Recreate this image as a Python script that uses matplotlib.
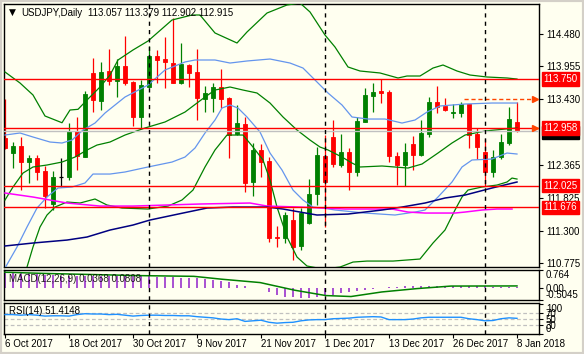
import matplotlib
matplotlib.use("Agg")
import matplotlib.pyplot as plt
import numpy as np
from matplotlib.patches import Rectangle

plt.rcParams['font.family'] = ['Liberation Sans', 'DejaVu Sans']

# daily candles, 6 Oct 2017 .. 8 Jan 2018
opens = [112.800, 112.559, 112.668, 112.414, 112.480, 112.268, 111.724, 112.171, 112.171, 112.910,
         112.495, 113.854, 113.401, 113.886, 113.724, 113.962, 113.708, 113.142, 113.627, 114.124,
         114.075, 114.016, 113.692, 113.978, 113.870, 113.433, 113.440, 113.628, 113.449, 112.857,
         113.024, 112.090, 112.603, 112.425, 111.200, 111.180, 111.470, 111.050, 111.427, 111.891,
         112.506, 112.808, 112.360, 112.571, 112.252, 113.061, 113.477, 113.563, 113.546, 112.506,
         112.360, 112.700, 112.522, 112.862, 113.385, 113.315, 113.197, 113.207, 113.347, 112.862,
         112.571, 112.252, 112.485, 112.721, 113.057]
highs = [113.430, 112.737, 112.818, 112.522, 112.522, 112.349, 112.268, 112.480, 113.035, 113.142,
         113.563, 114.087, 114.032, 114.229, 114.070, 114.448, 113.720, 113.736, 114.286, 114.221,
         114.427, 114.734, 114.330, 113.990, 114.232, 113.639, 113.682, 113.909, 113.455, 113.331,
         113.132, 112.711, 112.700, 112.495, 111.373, 111.605, 111.660, 111.660, 112.129, 112.656,
         112.846, 113.088, 112.862, 112.630, 113.142, 113.601, 113.692, 113.747, 113.574, 112.575,
         112.721, 112.830, 113.088, 113.456, 113.639, 113.440, 113.347, 113.385, 113.350, 112.954,
         112.776, 112.603, 112.862, 113.294, 113.379]
lows = [112.620, 112.307, 111.956, 112.064, 112.118, 111.660, 111.632, 112.009, 112.118, 112.279,
        112.490, 113.223, 113.250, 113.655, 113.465, 113.655, 112.991, 112.954, 113.600, 113.682,
        113.601, 113.690, 113.670, 113.627, 113.088, 113.223, 113.223, 113.278, 112.469, 112.840,
        111.928, 111.863, 112.161, 111.119, 111.038, 111.093, 110.823, 110.985, 111.400, 111.713,
        111.362, 112.333, 112.333, 111.956, 112.182, 113.050, 113.223, 113.359, 112.414, 112.037,
        112.020, 112.279, 112.500, 112.818, 113.197, 113.240, 113.116, 113.142, 112.640, 112.453,
        112.020, 112.161, 112.453, 112.684, 112.902]
closes = [112.630, 112.668, 112.414, 112.480, 112.252, 111.863, 112.171, 112.171, 112.910, 112.511,
          113.509, 113.412, 113.870, 113.719, 113.962, 113.682, 113.142, 113.655, 114.124, 114.059,
          114.027, 113.692, 113.995, 113.854, 113.449, 113.520, 113.618, 113.430, 112.846, 113.035,
          112.064, 112.603, 112.414, 111.184, 111.175, 111.551, 111.038, 111.588, 111.891, 112.522,
          112.090, 112.376, 112.575, 112.252, 113.077, 113.493, 113.546, 113.530, 112.506, 112.360,
          112.571, 112.522, 112.873, 113.385, 113.304, 113.250, 113.218, 113.347, 112.846, 112.656,
          112.252, 112.495, 112.732, 113.100, 112.915]

date_ticks = [0, 8, 16, 24, 32, 40, 48, 56, 64]
date_labels = ['6 Oct 2017', '18 Oct 2017', '30 Oct 2017', '9 Nov 2017', '21 Nov 2017',
               '1 Dec 2017', '13 Dec 2017', '26 Dec 2017', '8 Jan 2018']
month_starts = [18, 40, 60]

# Bollinger bands (20, 2) - green
bb2_up_x = [0, 1.875, 3.5, 5, 7.125, 8.125, 9.125, 10.25, 11.875, 13.125, 14.125, 16, 17.875, 20.875,
            23.375, 24.375, 26.25, 29, 30.25, 32.75, 35.25, 36.875, 38.125, 40, 41.25, 42.875, 44.375,
            46.875, 49.125, 50.25, 51.875, 53.5, 54.75, 56.5, 58.125, 60.25, 62.75, 64]
bb2_up = [113.865, 113.687, 113.493, 113.153, 113.044, 113.250, 113.261, 113.412, 113.622, 113.816,
          114.059, 114.221, 114.366, 114.706, 114.787, 114.787, 114.496, 114.334, 114.512, 114.819,
          114.949, 114.981, 114.836, 114.463, 114.269, 113.946, 113.881, 113.849, 113.768, 113.800,
          113.800, 113.929, 113.978, 113.881, 113.816, 113.784, 113.768, 113.751]
bb_mid_x = [0, 1, 2.25, 3.5, 5.25, 7.125, 8.75, 10.25, 11.5, 13.125, 15, 17.5, 20, 22.5, 25, 26.25,
            28.125, 29.75, 31.5, 33.125, 34.75, 36.5, 38.125, 39.375, 40.375, 42.125, 43.375, 44.375,
            47.125, 50.375, 52.125, 54.125, 55.875, 57.5, 60, 62.5, 64]
bb_mid = [111.794, 112.004, 112.230, 112.328, 112.360, 112.408, 112.489, 112.603, 112.683, 112.732,
          112.845, 112.959, 113.056, 113.217, 113.460, 113.573, 113.622, 113.573, 113.525, 113.363,
          113.137, 112.926, 112.764, 112.651, 112.603, 112.489, 112.392, 112.328, 112.344, 112.311,
          112.376, 112.554, 112.716, 112.845, 112.910, 112.942, 112.959]
bb2_lo_x = [1.875, 2.75, 3.5, 4.375, 5.25, 6.25, 7.75, 9.375, 11.25, 12.75, 14.625, 17.875, 20.375,
            22.125, 23.5, 25, 26.25, 27.75, 29.75, 31, 32.25, 33.125, 34, 35.25, 36.5, 37.75, 39.75,
            41.875, 43.5, 45.25, 48.5, 51.875, 53.5, 55, 56.25, 57.125, 57.875, 59.625, 61.5, 62.75,
            63.375, 64]
bb2_lo = [110.337, 110.709, 111.033, 111.357, 111.551, 111.680, 111.761, 111.745, 111.810, 111.713,
          111.664, 111.648, 111.696, 111.794, 111.955, 112.328, 112.603, 112.845, 112.845, 112.651,
          112.441, 112.117, 111.680, 111.195, 110.871, 110.726, 110.677, 110.709, 110.790, 110.806,
          110.806, 110.839, 111.098, 111.308, 111.632, 111.842, 111.955, 112.004, 112.036, 112.085,
          112.149, 112.133]

# Bollinger bands (20, 1) - blue
bb1_up_x = [0, 1.875, 3.5, 5.625, 7.125, 8.375, 9.75, 11.25, 12.5, 15, 17.875, 20, 22.5, 23.75, 26.25,
            28.125, 30.25, 33.125, 35.625, 37.25, 39, 40.375, 42.125, 43.375, 45.375, 47.5, 49.625,
            51.25, 52.75, 54.375, 57.5, 60.875, 64]
bb1_up = [112.845, 112.878, 112.813, 112.732, 112.716, 112.764, 112.926, 113.039, 113.201, 113.460,
          113.654, 113.897, 114.027, 114.059, 114.059, 114.010, 114.043, 114.075, 114.010, 113.929,
          113.703, 113.525, 113.331, 113.137, 113.104, 113.104, 113.039, 113.088, 113.217, 113.315,
          113.347, 113.363, 113.363]
bb1_lo_x = [0, 1.5, 2.75, 4, 5.25, 6.625, 8.375, 10, 11, 13.125, 15, 17.875, 20.875, 22.5, 23.75, 25,
            26.25, 27.125, 28.125, 29.125, 30.25, 31.875, 33.125, 34.625, 36, 37.25, 38.5, 39.75,
            41.25, 45, 48.75, 51.25, 52.5, 54.125, 55.875, 57.125, 58.375, 60.875, 62.75, 64]
bb1_lo = [110.693, 111.033, 111.357, 111.664, 111.842, 111.988, 112.004, 112.069, 112.214, 112.214,
          112.247, 112.328, 112.408, 112.489, 112.635, 112.878, 113.088, 113.282, 113.331, 113.282,
          113.137, 112.894, 112.554, 112.279, 111.955, 111.794, 111.680, 111.664, 111.632, 111.583,
          111.551, 111.599, 111.632, 111.842, 112.085, 112.328, 112.441, 112.457, 112.554, 112.538]

# slow moving averages
ma_navy_x = [0, 3.5, 7.75, 10.25, 13.125, 16, 18.125, 22.25, 25.25, 28.5, 32.75, 34.75, 36.875, 39,
             42.875, 47.125, 49.625, 52.5, 55, 57.5, 60.875, 64]
ma_navy = [111.050, 111.098, 111.146, 111.195, 111.308, 111.389, 111.470, 111.583, 111.664, 111.680,
           111.680, 111.648, 111.599, 111.551, 111.567, 111.632, 111.680, 111.745, 111.826, 111.874,
           111.988, 112.085]
ma_magenta_x = [0, 3.5, 7.75, 11.875, 16, 20.25, 24.375, 30.625, 32.75, 36.875, 42.5, 48.375, 50.375,
                52.5, 56.25, 57.5, 59.625, 61.5, 63.375]
ma_magenta = [111.907, 111.842, 111.745, 111.696, 111.696, 111.713, 111.729, 111.745, 111.696, 111.680,
              111.648, 111.648, 111.599, 111.583, 111.583, 111.599, 111.632, 111.648, 111.648]

# horizontal levels
red_levels = [113.750, 112.958, 112.025, 111.676]
bid_price = 112.915
arrow_price = 113.430
arrow_from_bar = 57.4

price_ticks = [114.480, 113.955, 113.430, 112.365, 111.825, 111.300, 110.775]

# MACD(12,26,9)
macd_hist = [0.74, 0.68, 0.64, 0.60, 0.58, 0.55, 0.52, 0.51, 0.50, 0.50,
             0.50, 0.51, 0.51, 0.50, 0.50, 0.50, 0.50, 0.50, 0.50, 0.46,
             0.46, 0.46, 0.43, 0.43, 0.39, 0.35, 0.32, 0.29, 0.23, 0.14,
             0.06, 0.015, 0.0, -0.19, -0.29, -0.38, -0.40, -0.43, -0.43, -0.38,
             -0.33, -0.29, -0.23, -0.19, -0.14, -0.09, -0.04, -0.01, 0.02, 0.05,
             0.07, 0.07, 0.07, 0.07, 0.09, 0.09, 0.09, 0.09, 0.07, 0.07,
             0.06, 0.04, 0.04, 0.04, 0.0368]
macd_sig_x = [0, 5, 16.75, 23.6, 27.1, 31.9, 36.25, 40.1, 43.25, 47.1, 51.5, 55.75, 63.6, 64]
macd_sig = [0.65, 0.60, 0.51, 0.48, 0.36, 0.22, -0.10, -0.32, -0.36, -0.17, -0.03, 0.075, 0.08, 0.0808]

# RSI(14)
rsi = [64, 64, 62, 64, 62, 59, 60, 60, 59, 64,
       67, 66, 66, 64, 65, 62, 59, 61, 62, 62,
       61, 61, 60, 60, 57, 55, 53, 49, 47, 50,
       41, 43, 45, 38, 35, 37, 38, 43, 46, 47,
       47, 50, 51, 52, 55, 56, 57, 56, 47, 47,
       47, 49, 53, 55, 55, 55, 55, 55, 50, 47,
       43, 44, 50, 53, 51.41]

BG = '#FFFFF0'
GREEN = '#008000'
RED = '#FF0000'
W, H = 584, 354
LEFT, RIGHT = 4, 539
XLIM = (-0.125, 66.75)

fig = plt.figure(figsize=(W / 100, H / 100), dpi=100)
fig.patch.set_facecolor(BG)


def add_panel(top, bottom):
    a = fig.add_axes([LEFT / W, 1 - bottom / H, (RIGHT - LEFT) / W, (bottom - top) / H])
    a.set_facecolor(BG)
    a.set_xlim(*XLIM)
    for s in a.spines.values():
        s.set_color('black')
        s.set_linewidth(1)
    a.tick_params(axis='y', left=False, labelleft=False, right=True, labelright=True,
                  direction='out', length=3, width=0.8, labelsize=7, pad=2)
    a.tick_params(axis='x', bottom=False, labelbottom=False)
    for b in month_starts:
        a.axvline(b, color='black', lw=1, ls=(0, (3, 3)), zorder=5)
    return a


ax = add_panel(4, 267)
axm = add_panel(269.5, 300)
axr = add_panel(302.5, 333.5)

# ---- main price panel
ax.set_ylim(110.710, 114.965)
x = np.arange(len(opens))
o = np.array(opens)
c = np.array(closes)
up = c > o
down = c < o
doji = ~(up | down)
colors = np.where(up, GREEN, RED)
colors = np.where(doji, 'black', colors)
ax.vlines(x, lows, highs, colors=colors, lw=0.9, zorder=2)
body_lo = np.minimum(o, c)
body_h = np.abs(c - o)
ax.bar(x[~doji], body_h[~doji], bottom=body_lo[~doji], width=0.6,
       color=colors[~doji], edgecolor=colors[~doji], lw=0.6, zorder=2)
ax.hlines(o[doji], x[doji] - 0.3, x[doji] + 0.3, colors='black', lw=0.9, zorder=2)

ax.plot(bb2_up_x, bb2_up, color=GREEN, lw=0.9, zorder=3)
ax.plot(bb_mid_x, bb_mid, color=GREEN, lw=0.9, zorder=3)
ax.plot(bb2_lo_x, bb2_lo, color=GREEN, lw=0.9, zorder=3)
ax.plot(bb1_up_x, bb1_up, color='#6495ED', lw=0.9, zorder=3)
ax.plot(bb1_lo_x, bb1_lo, color='#6495ED', lw=0.9, zorder=3)
ax.plot(ma_magenta_x, ma_magenta, color='#FF00FF', lw=1.1, zorder=3)
ax.plot(ma_navy_x, ma_navy, color='#000080', lw=1.1, zorder=3)

ax.axhline(bid_price, color='#C0C0C0', lw=1, zorder=4)
for lv in red_levels:
    ax.axhline(lv, color=RED, lw=1, zorder=4)
ax.plot([arrow_from_bar, XLIM[1] - 0.55], [arrow_price, arrow_price], color='#FF4500',
        lw=1, ls=(0, (3, 2)), zorder=4)
ax.plot([XLIM[1] - 0.5], [arrow_price], marker='>', ms=4.5, color='#FF4500', zorder=6, clip_on=False)
ax.plot([XLIM[1] - 0.5], [red_levels[1]], marker='>', ms=4.5, color='#FF4500', zorder=6, clip_on=False)

ax.set_yticks(price_ticks)
ax.set_yticklabels(['%.3f' % p for p in price_ticks])


def price_box(a, y, text, fc):
    a.annotate(text, xy=(1, y), xycoords=('axes fraction', 'data'), xytext=(3.2, 0),
               textcoords='offset points', ha='left', va='center', fontsize=7, color='white',
               bbox=dict(boxstyle='square,pad=0.18', fc=fc, ec=fc), zorder=10,
               annotation_clip=False)


price_box(ax, bid_price - 0.03, '%.3f' % bid_price, 'black')
for lv in red_levels:
    price_box(ax, lv, '%.3f' % lv, RED)

fig.text(9 / W, 1 - 12.5 / H, '\u25bc', fontsize=6.5, va='center', ha='left',
         family=['DejaVu Sans'])
fig.text(21 / W, 1 - 13 / H, 'USDJPY,Daily', fontsize=7, va='center', ha='left')
fig.text(88 / W, 1 - 13 / H, '%.3f %.3f %.3f %.3f' % (opens[-1], highs[-1], lows[-1], closes[-1]),
         fontsize=7, va='center', ha='left')

# ---- MACD panel
axm.set_ylim(-0.5045, 0.764)
axm.vlines(x, 0, macd_hist, colors='#9932CC', lw=1.2, zorder=2)
axm.plot(macd_sig_x, macd_sig, color=GREEN, lw=1.1, zorder=3)
axm.set_yticks([0.764, 0.0, -0.5045])
axm.set_yticklabels(['0.764', '0.00', '-0.5045'])
lbls = axm.get_yticklabels()
lbls[0].set_va('top')
lbls[2].set_va('bottom')
axm.text(0.01, 0.7, 'MACD(12,26,9) 0.0368 0.0808', transform=axm.transAxes, fontsize=7,
         va='center', ha='left', color='black', alpha=0.85, zorder=6)

# ---- RSI panel
axr.set_ylim(0, 105)
for lv in (70, 50, 30):
    axr.axhline(lv, color='#C0C0C0', lw=0.9, ls=(0, (3, 2)), zorder=1)
axr.plot(x, rsi, color='#1E90FF', lw=1, zorder=3)
axr.set_yticks([100, 70, 50, 30, 0])
axr.set_yticklabels(['100', '70', '50', '30', '0'])
lbls = axr.get_yticklabels()
lbls[0].set_va('top')
lbls[4].set_va('bottom')
axr.text(0.01, 0.72, 'RSI(14) 51.4148', transform=axr.transAxes, fontsize=7,
         va='center', ha='left', color='black', zorder=6)

axr.tick_params(axis='x', bottom=True, labelbottom=True, direction='out', length=3,
                width=0.8, labelsize=7, pad=1)
axr.set_xticks(date_ticks)
axr.set_xticklabels(date_labels, ha='left')

# window frame
fig.add_artist(Rectangle((0, 0), 1, 1, transform=fig.transFigure, fill=False,
                         ec='#D4D0C8', lw=3))

fig.savefig('out.png', dpi=100, facecolor=BG)
